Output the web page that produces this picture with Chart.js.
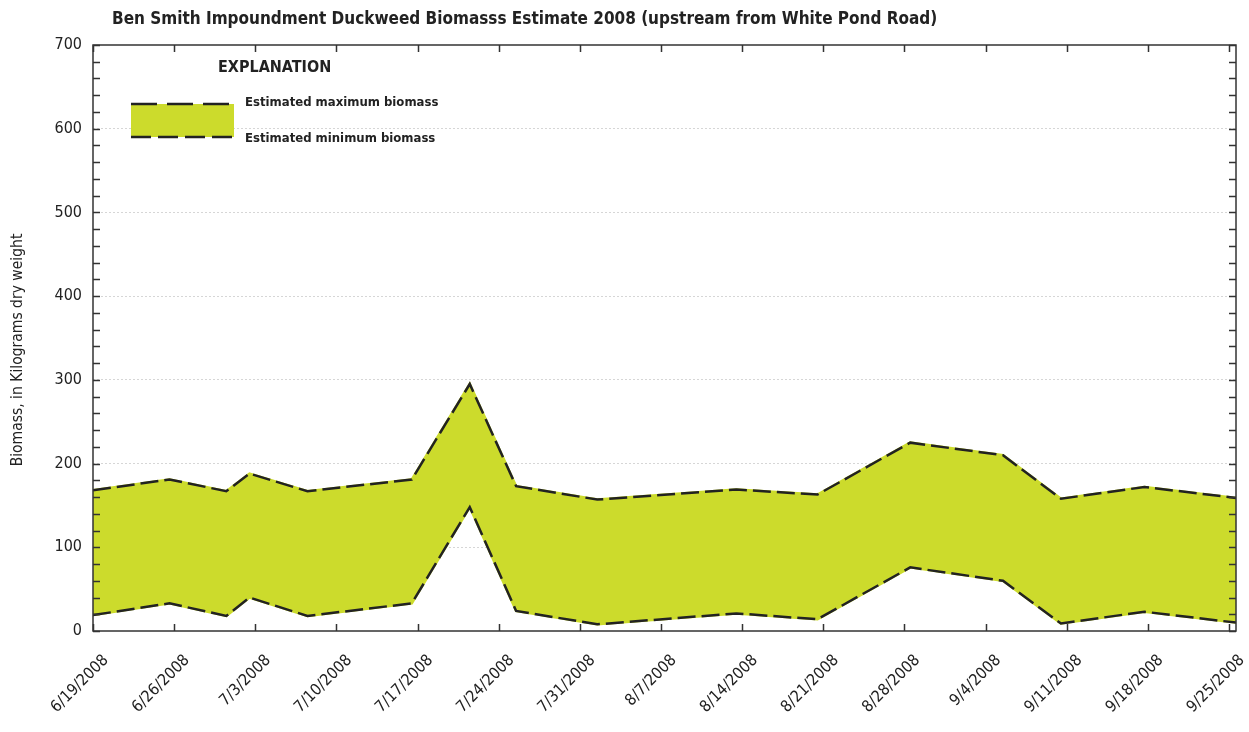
<!DOCTYPE html>
<html>
<head>
<meta charset="utf-8">
<script src="https://cdn.jsdelivr.net/npm/chart.js@4.4.0/dist/chart.umd.min.js"></script>
<style>
  html, body { margin: 0; padding: 0; background: #fff; }
  #wrap { width: 1249px; height: 732px; }
</style>
</head>
<body>
<div id="wrap"><canvas id="chart" width="1249" height="732"></canvas></div>
<script>
// sample dates, as days after 6/19/2008
const sampleDay = [0, 6.6, 11.5, 13.5, 18.5, 27.5, 32.5, 36.5, 43.5, 55.5, 62.5, 70.5, 78.5, 83.5, 90.7, 98.6];
// biomass, kg dry weight
const maxBiomass = [168, 181, 167, 188, 167, 181, 295, 173, 157, 169, 163, 225, 210, 158, 172, 159];
const minBiomass = [19, 33, 18, 40, 18, 33, 148, 24, 8, 21, 14, 76, 60, 9, 23, 10];

// weekly tick marks
const tickDays = [0, 7, 14, 21, 28, 35, 42, 49, 56, 63, 70, 77, 84, 91, 98];
const tickLabels = [
  "6/19/2008", "6/26/2008", "7/3/2008", "7/10/2008", "7/17/2008",
  "7/24/2008", "7/31/2008", "8/7/2008", "8/14/2008", "8/21/2008",
  "8/28/2008", "9/4/2008", "9/11/2008", "9/18/2008", "9/25/2008",
];

const FONT = '"Liberation Sans Narrow", "DejaVu Sans Condensed", "Roboto Condensed", Arial, sans-serif';
const FILL = "#ccdb2c";
const INK = "#222";

Chart.defaults.font.family = FONT;
Chart.defaults.color = INK;

const maxPts = sampleDay.map((d, i) => ({ x: d, y: maxBiomass[i] }));
const minPts = sampleDay.map((d, i) => ({ x: d, y: minBiomass[i] }));

// frame with inward ticks, titles and the explanation box
const decor = {
  id: "decor",
  afterDatasetsDraw(chart) {
    const { ctx, chartArea: a, scales } = chart;
    const x = scales.x, y = scales.y;
    ctx.save();
    ctx.strokeStyle = "#333";
    ctx.lineWidth = 1.5;
    ctx.strokeRect(a.left, a.top, a.right - a.left, a.bottom - a.top);
    ctx.beginPath();
    y.ticks.forEach((t) => {
      const py = Math.round(y.getPixelForValue(t.value)) + 0.5;
      ctx.moveTo(a.left, py); ctx.lineTo(a.left + 7, py);
      ctx.moveTo(a.right, py); ctx.lineTo(a.right - 7, py);
    });
    x.ticks.forEach((t) => {
      const px = Math.round(x.getPixelForValue(t.value)) + 0.5;
      ctx.moveTo(px, a.bottom); ctx.lineTo(px, a.bottom - 7);
      ctx.moveTo(px, a.top); ctx.lineTo(px, a.top + 7);
    });
    ctx.stroke();

    // title
    ctx.fillStyle = INK;
    ctx.textBaseline = "middle";
    ctx.textAlign = "left";
    ctx.font = "bold 17px " + FONT;
    ctx.fillText("Ben Smith Impoundment Duckweed Biomasss Estimate 2008 (upstream from White Pond Road)", 112, 20);

    // y axis title
    ctx.save();
    ctx.translate(18, 350);
    ctx.rotate(-Math.PI / 2);
    ctx.textAlign = "center";
    ctx.font = "15.5px " + FONT;
    ctx.fillText("Biomass, in Kilograms dry weight", 0, 0);
    ctx.restore();

    // explanation
    ctx.font = "bold 16px " + FONT;
    ctx.fillText("EXPLANATION", 218, 68);
    ctx.fillStyle = FILL;
    ctx.fillRect(131, 104, 103, 33);
    ctx.strokeStyle = INK;
    ctx.lineWidth = 2.5;
    ctx.setLineDash([26, 10]);
    ctx.beginPath(); ctx.moveTo(131, 104); ctx.lineTo(234, 104); ctx.stroke();
    ctx.setLineDash([20, 7]);
    ctx.beginPath(); ctx.moveTo(131, 137); ctx.lineTo(234, 137); ctx.stroke();
    ctx.setLineDash([]);
    ctx.fillStyle = INK;
    ctx.font = "bold 13px " + FONT;
    ctx.fillText("Estimated maximum biomass", 245, 103);
    ctx.fillText("Estimated minimum biomass", 245, 139);
    ctx.restore();
  },
};

new Chart(document.getElementById("chart"), {
  type: "line",
  data: {
    datasets: [
      { label: "Estimated maximum biomass", data: maxPts, borderColor: FILL, backgroundColor: FILL,
        borderWidth: 2.5, fill: "+1", pointRadius: 0, order: 2 },
      { label: "Estimated minimum biomass", data: minPts, borderColor: FILL,
        borderWidth: 2.5, fill: false, pointRadius: 0, order: 2 },
      { data: maxPts, borderColor: INK, borderDash: [18, 6], borderWidth: 2.5,
        fill: false, pointRadius: 0, order: 1 },
      { data: minPts, borderColor: INK, borderDash: [18, 6], borderWidth: 2.5,
        fill: false, pointRadius: 0, order: 1 },
    ],
  },
  options: {
    responsive: false,
    animation: false,
    events: [],
    layout: { padding: { top: 45, right: 13, left: 0, bottom: 0 } },
    plugins: { legend: { display: false }, tooltip: { enabled: false }, title: { display: false } },
    scales: {
      x: {
        type: "linear", min: 0, max: 98.6,
        afterBuildTicks: (s) => { s.ticks = tickDays.map((v) => ({ value: v })); },
        afterFit: (s) => { s.height = 101; s.paddingLeft = 0; s.paddingRight = 0; },
        grid: { display: false, drawTicks: false },
        border: { display: false },
        ticks: {
          autoSkip: false, minRotation: 45, maxRotation: 45, padding: 20, labelOffset: 13,
          font: { size: 16 }, color: INK,
          callback: (v, i) => tickLabels[i],
        },
      },
      y: {
        min: 0, max: 700, z: 1,
        afterFit: (s) => { s.width = 93; s.paddingTop = 0; s.paddingBottom = 0; },
        grid: {
          drawTicks: false, lineWidth: 1,
          color: (c) => (c.tick && c.tick.value % 100 === 0 && c.tick.value > 0 && c.tick.value < 700 ? "#d6d6d6" : "rgba(0,0,0,0)"),
        },
        border: { display: false, dash: [2, 2] },
        ticks: {
          stepSize: 20, autoSkip: false, padding: 11, font: { size: 16 }, color: INK,
          callback: (v) => (v % 100 === 0 ? v : ""),
        },
      },
    },
  },
  plugins: [decor],
});
</script>
</body>
</html>
